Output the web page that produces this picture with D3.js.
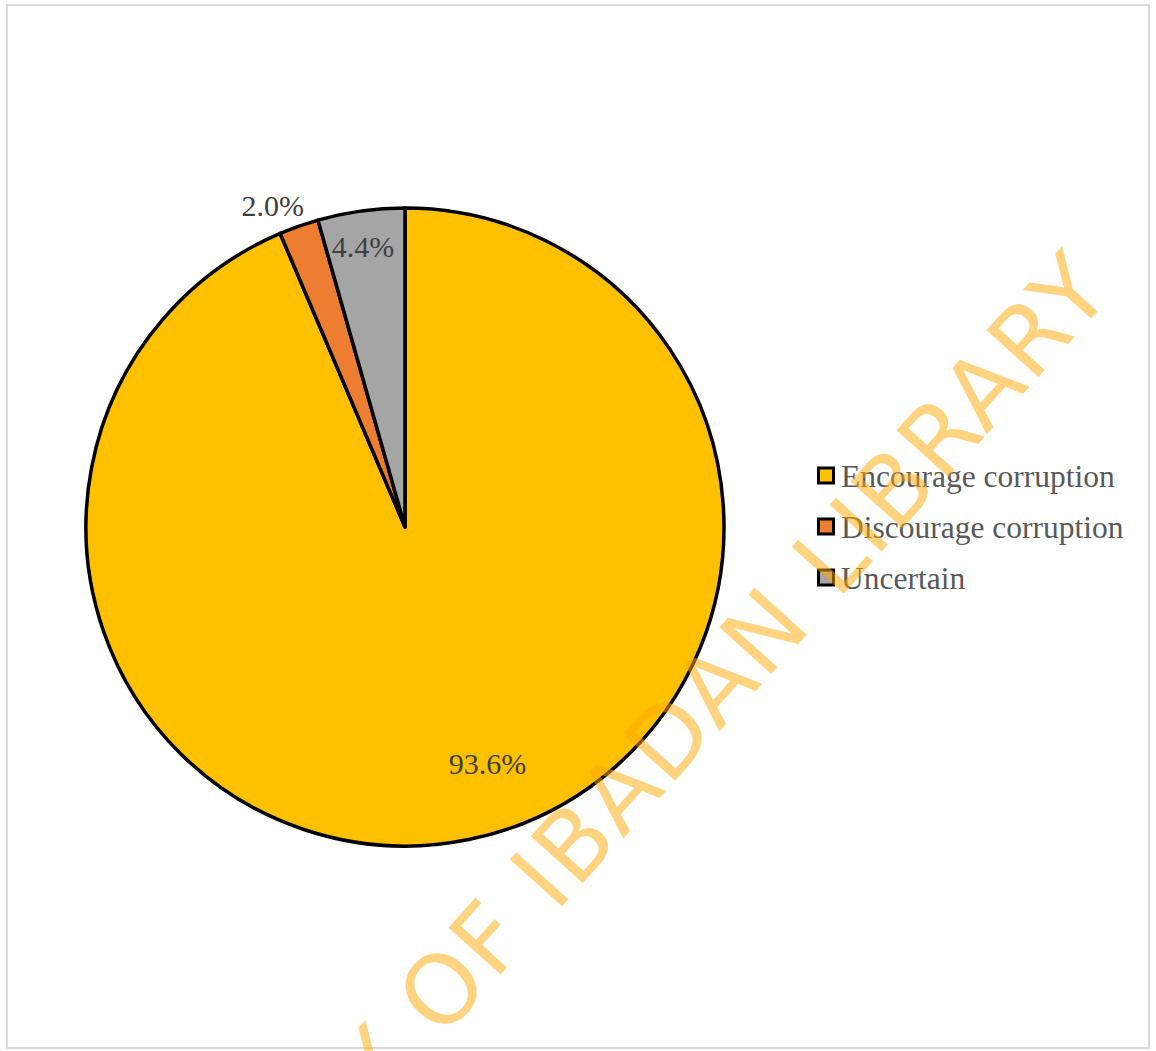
<!DOCTYPE html>
<html>
<head>
<meta charset="utf-8">
<script src="https://cdn.jsdelivr.net/npm/d3@7"></script>
<style>
  html, body { margin: 0; padding: 0; background: #ffffff; }
  svg { display: block; }
</style>
</head>
<body>
<svg id="chart" width="1156" height="1051"></svg>
<script>
// Responses to the question, as shares of all respondents (%)
const categories = ["Encourage corruption", "Discourage corruption", "Uncertain"];
const values = [93.6, 2.0, 4.4];
const valueLabels = ["93.6%", "2.0%", "4.4%"];
const colors = ["#FFC000", "#ED7D31", "#A5A5A5"];
const watermarkText = "UNIVERSITY OF IBADAN LIBRARY";

const W = 1156, H = 1051;
const svg = d3.select("#chart");

// chart area frame
svg.append("rect")
  .attr("x", 7).attr("y", 5)
  .attr("width", W - 14).attr("height", H - 8)
  .attr("fill", "#ffffff")
  .attr("stroke", "#d9d9d9")
  .attr("stroke-width", 2);

// pie geometry
const cx = 405, cy = 527, R = 319;
const pie = d3.pie().sort(null).value(d => d.value).startAngle(0).endAngle(2 * Math.PI);
const slices = pie(categories.map((c, i) => ({ name: c, value: values[i], label: valueLabels[i], color: colors[i] })));
const arc = d3.arc().innerRadius(0).outerRadius(R);

const g = svg.append("g").attr("transform", `translate(${cx},${cy})`);

g.selectAll("path.slice")
  .data(slices)
  .join("path")
  .attr("class", "slice")
  .attr("d", arc)
  .attr("fill", d => d.data.color)
  .attr("stroke", "#000000")
  .attr("stroke-width", 3.5)
  .attr("stroke-linejoin", "round");

// label placement: radius as a fraction of R, and an angular nudge in degrees
const labelPlacement = [
  { rf: 0.785, nudge: -7.7 },
  { rf: 1.09, nudge: -2.9 },
  { rf: 0.89, nudge: -0.6 }
];

g.selectAll("text.value")
  .data(slices)
  .join("text")
  .attr("class", "value")
  .attr("transform", (d, i) => {
    const p = labelPlacement[i];
    const a = (d.startAngle + d.endAngle) / 2 + p.nudge * Math.PI / 180;
    const r = p.rf * R;
    return `translate(${r * Math.sin(a)},${-r * Math.cos(a)})`;
  })
  .attr("text-anchor", "middle")
  .attr("dominant-baseline", "central")
  .attr("font-family", "'Liberation Serif', 'Times New Roman', serif")
  .attr("font-size", 30)
  .attr("fill", "#404040")
  .text(d => d.data.label);

// legend
const legend = svg.append("g").attr("transform", "translate(817,476)");
const rowH = 51;
const item = legend.selectAll("g.item")
  .data(categories)
  .join("g")
  .attr("class", "item")
  .attr("transform", (d, i) => `translate(0,${i * rowH})`);

item.append("rect")
  .attr("x", 1.5).attr("y", -8)
  .attr("width", 15).attr("height", 15)
  .attr("fill", (d, i) => colors[i])
  .attr("stroke", "#000000")
  .attr("stroke-width", 3);

item.append("text")
  .attr("x", 24)
  .attr("y", 0)
  .attr("dominant-baseline", "central")
  .attr("font-family", "'Liberation Serif', 'Times New Roman', serif")
  .attr("font-size", 31.5)
  .attr("fill", "#595959")
  .text(d => d);

// diagonal library watermark laid over the chart
svg.append("text")
  .attr("transform", "translate(1116,291) rotate(-48)")
  .attr("text-anchor", "end")
  .attr("font-family", "'DejaVu Sans', sans-serif")
  .attr("font-size", 96)
  .attr("letter-spacing", 3)
  .attr("fill", "rgb(255,168,0)")
  .attr("fill-opacity", 0.5)
  .text(watermarkText);
</script>
</body>
</html>
